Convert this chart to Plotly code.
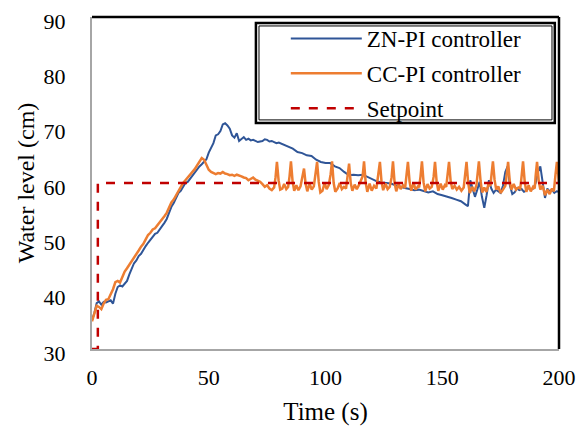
import plotly.graph_objects as go

# ZN-PI controller response (time s, level cm)
zn_t = [0, 1, 2, 3, 4, 5, 6, 7, 8, 9, 10, 11, 12, 13, 14, 15, 16, 17, 18, 19,
        20, 21, 22, 23, 24, 25, 26, 27, 28, 29, 30, 31, 32, 33, 34, 35, 36, 37, 38, 39,
        40, 41, 42, 43, 44, 45, 46, 47, 48, 49, 50, 51, 52, 53, 54, 55, 56, 57, 58, 59,
        60, 61, 62, 63, 64, 65, 66, 67, 68, 69, 70, 71, 72, 73, 74, 75, 76, 77, 78, 79,
        80, 82, 84, 86, 88, 90, 92, 94, 96, 98, 100, 102, 104, 106, 108, 110, 112, 114, 116, 118,
        120, 122, 124, 126, 128, 130, 132, 134, 136, 138, 140, 142, 144, 146, 148, 150, 152, 154, 156, 158,
        160, 161, 162, 163, 164, 165, 166, 167, 168, 169, 170, 171, 172, 173, 174, 175, 176, 177, 178, 179,
        180, 181, 182, 183, 184, 185, 186, 187, 188, 189, 190, 191, 192, 193, 194, 195, 196, 197, 198, 199, 200]
zn_v = [35.2, 36.5, 38.3, 38.6, 38.0, 38.5, 38.4, 38.6, 38.8, 38.2, 40.0, 41.2, 41.5, 41.3, 41.9, 42.3, 43.5, 44.6, 45.5, 46.0,
        46.8, 47.2, 48.0, 48.6, 49.2, 49.8, 50.4, 50.8, 51.0, 51.7, 52.2, 52.8, 53.5, 54.6, 55.7, 56.4, 57.3, 58.2, 58.6, 59.3,
        60.0, 60.2, 60.8, 61.3, 61.9, 62.6, 63.0, 63.4, 63.9, 64.3, 65.5, 66.5, 67.2, 68.6, 68.8, 69.4, 70.6, 70.8, 70.4, 69.8,
        68.6, 68.2, 69.0, 67.6, 67.9, 68.3, 67.8, 68.0, 67.7, 67.8, 67.6, 67.4, 67.5, 67.6, 67.9, 67.8, 67.5, 67.6, 67.4, 67.2,
        67.3, 66.9, 66.5, 66.2, 65.6, 65.4, 65.0, 64.9, 64.2, 63.8, 63.6, 63.6, 63.0, 62.7, 62.0, 61.4, 61.5, 61.4, 61.5, 61.1,
        60.8, 60.3, 60.1, 60.0, 59.9, 59.6, 59.3, 59.1, 58.9, 58.7, 58.8, 58.5, 58.3, 58.5, 58.0, 57.8, 57.6, 57.3, 57.0, 56.7,
        56.1, 55.8, 60.5, 59.0, 57.5, 58.8, 60.2, 57.5, 55.5, 57.8, 60.5, 59.0, 58.2, 58.8, 58.5, 58.2, 59.5, 62.0, 63.0, 59.5,
        58.0, 58.3, 59.0, 58.7, 58.9, 58.4, 58.6, 59.2, 58.8, 59.0, 60.0, 62.0, 63.0, 60.0, 57.3, 59.0, 58.5, 58.8, 58.2, 58.5, 58.4]

# CC-PI controller response (time s, level cm)
cc_t = [0, 1, 2, 3, 4, 5, 6, 7, 8, 9, 10, 11, 12, 13, 14, 15, 16, 17, 18, 19,
        20, 21, 22, 23, 24, 25, 26, 27, 28, 29, 30, 31, 32, 33, 34, 35, 36, 37, 38, 39,
        40, 41, 42, 43, 44, 45, 46, 47, 48, 49, 50, 51, 52, 53, 54, 55, 56, 57, 58, 59,
        60, 61, 62, 63, 64, 65, 66, 67, 68, 69, 70, 71, 72, 73, 74, 75, 76, 77,
        78.0, 78.6, 79.2, 79.9, 80.6, 81.5, 82.3, 83.2, 84.0,
        84.6, 85.2, 85.9, 86.6, 87.5, 88.4, 89.3,
        90.2, 90.8, 91.5, 92.2, 93.2, 94.1, 95.0,
        95.8, 96.4, 97.1, 97.8, 98.7, 99.6, 100.5, 101.4,
        102.2, 102.8, 103.5, 104.2, 105.2, 106.1, 107.0, 107.9, 108.8,
        109.5, 110.1, 110.8, 111.5, 112.5, 113.4, 114.3,
        115.9, 116.5, 117.2, 117.9, 118.9, 119.8, 120.8, 121.8,
        122.7, 123.3, 124.0, 124.7, 125.7, 126.6, 127.5,
        128.3, 128.9, 129.6, 130.3, 131.3, 132.2, 133.2, 134.1,
        134.7, 135.3, 136.0, 136.7, 137.7, 138.6, 139.6, 140.1,
        140.7, 141.3, 142.0, 142.7, 143.7, 144.6, 145.5,
        146.3, 146.9, 147.6, 148.3, 149.3, 150.2, 151.1, 151.7,
        152.3, 152.9, 153.6, 154.3, 155.3, 156.2, 157.2, 158.2, 159.2,
        159.8, 160.4, 161.1, 161.8, 162.8, 163.7, 164.6,
        165.1, 165.7, 166.4, 167.1, 168.0, 168.9, 169.8, 170.6,
        171.1, 171.7, 172.4, 173.1, 174.0, 175.0, 176.0, 177.0,
        177.6, 178.2, 178.9, 179.6, 180.6, 181.6, 182.6, 183.4,
        184.0, 184.6, 185.3, 186.0, 187.0, 187.9, 188.9, 189.6,
        190.0, 190.6, 191.3, 192.0, 193.0, 194.0, 195.0, 196.0, 197.0, 197.8,
        198.5, 199.1, 199.6, 200.0]
cc_v = [35.0, 36.2, 37.8, 37.6, 37.2, 38.2, 38.9, 39.0, 39.8, 40.8, 42.1, 42.3, 42.0, 43.0, 44.0, 44.6, 45.2, 46.0, 46.6, 47.1,
        47.8, 48.5, 49.0, 49.8, 50.6, 51.0, 51.6, 51.8, 52.3, 52.9, 53.5, 54.0, 54.6, 55.5, 56.5, 57.0, 57.8, 58.5, 59.2, 60.0,
        60.5, 61.0, 61.3, 62.0, 62.5, 63.2, 63.8, 64.5, 64.2, 63.2, 62.4, 62.0, 61.8, 61.6, 61.8, 61.7, 62.0, 61.7, 61.6, 61.4,
        61.5, 61.3, 61.5, 61.4, 61.2, 61.0, 60.9, 60.5, 60.7, 61.0, 60.6, 60.4, 60.2, 59.8, 59.3, 59.6, 59.0, 58.7,
        59.2, 61.0, 63.8, 60.5, 58.8, 59.0, 59.8, 58.9, 59.3,
        61.2, 63.9, 60.3, 58.6, 59.6, 58.7, 59.4,
        61.0, 62.6, 59.8, 58.5, 59.9, 58.8, 59.4,
        61.5, 63.8, 60.2, 58.3, 58.6, 60.0, 58.9, 59.6,
        61.6, 63.9, 60.0, 58.4, 59.0, 60.0, 58.9, 59.3, 59.0,
        61.4, 63.5, 60.0, 58.6, 59.7, 58.9, 59.6,
        61.2, 63.9, 60.1, 58.4, 59.9, 58.6, 59.5, 59.0,
        61.4, 63.8, 60.2, 58.7, 59.9, 58.9, 59.3,
        61.0, 63.9, 60.0, 58.5, 59.8, 58.9, 59.6, 59.1,
        61.3, 63.8, 60.3, 58.6, 60.0, 58.8, 59.4, 59.2,
        61.2, 63.9, 60.1, 58.5, 59.8, 59.0, 59.3,
        61.1, 63.8, 60.2, 58.6, 59.9, 58.8, 59.6, 59.3,
        61.3, 63.8, 60.3, 58.9, 59.5, 58.8, 59.3, 58.6, 59.2,
        61.4, 63.8, 60.0, 58.2, 59.3, 58.5, 59.5,
        61.5, 63.9, 60.4, 58.3, 59.2, 58.4, 59.8, 59.5,
        61.5, 63.9, 60.6, 58.8, 59.4, 58.2, 58.8, 59.5,
        61.5, 63.8, 60.4, 58.8, 59.8, 58.8, 59.2, 59.0,
        61.3, 63.9, 60.3, 58.4, 59.6, 58.5, 59.3, 59.0,
        61.3, 63.8, 60.4, 58.8, 59.5, 57.8, 58.8, 58.0, 59.0, 58.5,
        61.5, 63.8, 62.0, 60.0]

# Setpoint step
sp_t = [0, 2.5, 2.5, 200]
sp_v = [30, 30, 60, 60]

x_ticks = [0, 50, 100, 150, 200]
y_ticks = [30, 40, 50, 60, 70, 80, 90]

FONT = "Liberation Serif"

fig = go.Figure()
fig.add_trace(go.Scatter(x=zn_t, y=zn_v, mode="lines", name="ZN-PI controller",
                         legendgroup="a", line=dict(color="#2F5597", width=2)))
fig.add_trace(go.Scatter(x=cc_t, y=cc_v, mode="lines", name="CC-PI controller",
                         legendgroup="b", line=dict(color="#ED7D31", width=2.5)))
fig.add_trace(go.Scatter(x=sp_t, y=sp_v, mode="lines", name="Setpoint",
                         legendgroup="c", line=dict(color="#C00000", width=2.5, dash="dash")))

# page body adds an 8px offset; figure size/margins compensate for it
fig.update_layout(
    width=578, height=422,
    margin=dict(l=84, r=27, t=9, b=81, pad=0),
    paper_bgcolor="white", plot_bgcolor="white",
    font=dict(family=FONT, size=22, color="black"),
    showlegend=True,
    legend=dict(x=0.415, y=1.0, xanchor="left", yanchor="top",
                bgcolor="rgba(0,0,0,0)", borderwidth=0,
                font=dict(family=FONT, size=23, color="black"),
                traceorder="grouped", tracegroupgap=2, itemwidth=71),
    xaxis=dict(range=[0, 200], tickvals=x_ticks, showgrid=False, zeroline=False,
               showline=True, linecolor="#A6A6A6", linewidth=2, ticks="",
               automargin=False, ticklabelstandoff=8, ticklabeloverflow="allow",
               title=dict(text="Time (s)", font=dict(size=25), standoff=13)),
    yaxis=dict(range=[30, 90], tickvals=y_ticks, showgrid=False, zeroline=False,
               showline=True, linecolor="#A6A6A6", linewidth=2, ticks="",
               automargin=False, ticklabelstandoff=20, ticklabelshift=4,
               ticklabeloverflow="allow",
               title=dict(text="Water level (cm)", font=dict(size=24), standoff=2)),
)
# black frame on top and right
fig.add_shape(type="line", xref="paper", yref="paper", x0=0, x1=1, y0=1, y1=1,
              line=dict(color="black", width=2.5))
fig.add_shape(type="line", xref="paper", yref="paper", x0=1, x1=1, y0=0, y1=1,
              line=dict(color="black", width=2.5))
# legend frame (double line)
fig.add_shape(type="rect", xref="paper", yref="paper", x0=0.351, x1=0.991, y0=0.681, y1=0.982,
              line=dict(color="black", width=2.5), fillcolor="white", layer="above")
fig.add_shape(type="rect", xref="paper", yref="paper", x0=0.3576, x1=0.985, y0=0.690, y1=0.973,
              line=dict(color="black", width=1), layer="above")

fig.write_html("out.html")
